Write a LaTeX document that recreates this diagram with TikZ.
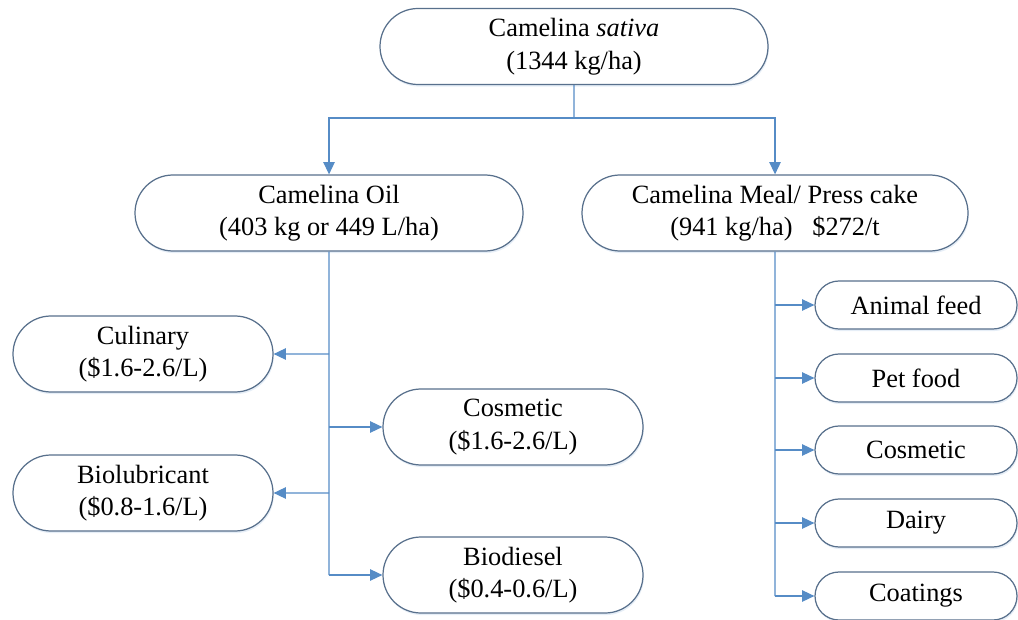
\documentclass[tikz,border=0pt]{standalone}
\usepackage{fontspec}
\setmainfont{Liberation Serif}
\usetikzlibrary{arrows.meta,shapes.misc,shadows}
\definecolor{boxedge}{RGB}{88,112,140}
\definecolor{flow}{RGB}{86,140,198}

\begin{document}
\begin{tikzpicture}[
		font=\fontsize{15pt}{18.5pt}\selectfont,
		usebox/.style={rounded rectangle, draw=boxedge, line width=0.7pt, fill=white,
			align=center, inner sep=0pt, minimum height=1.52cm,
			drop shadow={shadow xshift=0.5pt, shadow yshift=-1.2pt, fill=flow!25, opacity=0.6}},
		smallbox/.style={usebox, minimum width=4.04cm, minimum height=0.96cm},
		flowline/.style={draw=flow, line width=0.7pt},
		->/.style={flowline, -{Triangle[length=7pt,width=6.5pt]}}]
		\useasboundingbox (0,0) rectangle (20.36,12.38);

		\draw 
		(11.48, 11.45) node [usebox, minimum width=7.76cm] (seed) {Camelina \textit{sativa}\\(1344 kg/ha)}
		(6.58, 8.12) node [usebox, minimum width=7.76cm] (oil) {Camelina Oil\\(403 kg or 449 L/ha)}
		(15.50, 8.12) node [usebox, minimum width=7.72cm] (meal) {Camelina Meal/ Press cake\\(941 kg/ha)\ \ \ \$272/t};
		\coordinate (split) at (11.48, 10.02);
		\draw[flowline] (seed) -- (split);
		\draw[->] (split) -| (oil);
		\draw[->] (split) -| (meal);

		\draw 
		(2.86, 5.30) node [usebox, minimum width=5.2cm] (culinary) {Culinary\\(\$1.6-2.6/L)}
		(10.26, 3.84) node [usebox, minimum width=5.2cm] (cosmetic) {Cosmetic\\(\$1.6-2.6/L)}
		(2.86, 2.52) node [usebox, minimum width=5.2cm] (biolub) {Biolubricant\\(\$0.8-1.6/L)}
		(10.26, 0.88) node [usebox, minimum width=5.2cm] (biodiesel) {Biodiesel\\(\$0.4-0.6/L)};
		\draw[flowline] (oil) -- (oil |- biodiesel);
		\draw[->] (oil |- culinary) -- (culinary);
		\draw[->] (oil |- cosmetic) -- (cosmetic);
		\draw[->] (oil |- biolub) -- (biolub);
		\draw[->] (oil |- biodiesel) -- (biodiesel);

		\draw 
		(18.32, 6.28) node [smallbox] (feed) {Animal feed}
		(18.32, 4.82) node [smallbox] (pet) {Pet food}
		(18.32, 3.38) node [smallbox] (cosm) {Cosmetic}
		(18.32, 1.92) node [smallbox] (dairy) {Dairy}
		(18.32, 0.46) node [smallbox] (coat) {Coatings};
		\draw[flowline] (meal) -- (meal |- coat);
		\draw[->] (meal |- feed) -- (feed);
		\draw[->] (meal |- pet) -- (pet);
		\draw[->] (meal |- cosm) -- (cosm);
		\draw[->] (meal |- dairy) -- (dairy);
		\draw[->] (meal |- coat) -- (coat);
	\end{tikzpicture}
\end{document}
